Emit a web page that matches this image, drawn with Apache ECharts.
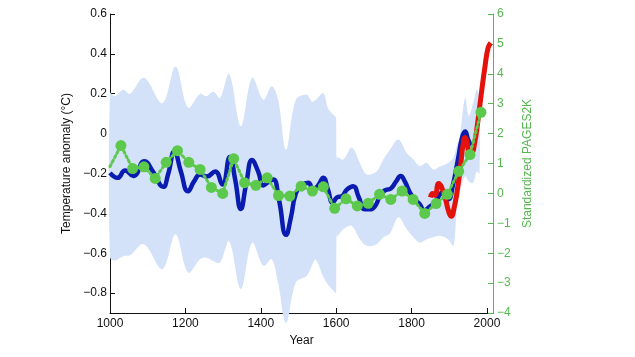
<!DOCTYPE html>
<html>
<head>
<meta charset="utf-8">
<script src="https://cdn.jsdelivr.net/npm/echarts@6/dist/echarts.min.js"></script>
<style>html,body{margin:0;padding:0;background:#fff}#c{width:635px;height:357px}</style>
</head>
<body>
<div id="c"></div>
<script>
// Reconstruction (blue), left axis
var blueYears = [1000,1020,1040,1062,1091,1114,1141,1154,1171,1188,1207,1223,1239,1257,1279,1298,1318,1332,1347,1361,1377,1393,1407,1419,1433,1448,1467,1480,1493,1509,1526,1539,1552,1566,1578,1591,1602,1615,1629,1645,1660,1676,1690,1703,1716,1729,1745,1759,1771,1782,1796,1809,1822,1833,1849,1862,1882,1897,1910,1923,1934,1942,1950,1958];
var blueTemp  = [-0.197,-0.222,-0.185,-0.213,-0.139,-0.19,-0.267,-0.205,-0.09,-0.19,-0.289,-0.24,-0.205,-0.215,-0.19,-0.255,-0.118,-0.23,-0.378,-0.255,-0.133,-0.19,-0.26,-0.245,-0.23,-0.33,-0.508,-0.42,-0.30,-0.26,-0.247,-0.28,-0.26,-0.222,-0.28,-0.347,-0.32,-0.314,-0.28,-0.264,-0.32,-0.38,-0.38,-0.364,-0.315,-0.285,-0.275,-0.24,-0.213,-0.24,-0.297,-0.33,-0.355,-0.385,-0.365,-0.345,-0.297,-0.33,-0.255,-0.13,-0.02,0.01,-0.03,-0.06];

// Instrumental (red), left axis
var redYears = [1850,1856,1862,1872,1880,1890,1900,1906,1912,1920,1930,1937,1942,1947,1953,1960,1967,1975,1985,1995,2003,2010];
var redTemp  = [-0.32,-0.30,-0.31,-0.25,-0.27,-0.33,-0.40,-0.415,-0.38,-0.30,-0.16,-0.05,-0.02,-0.04,-0.09,-0.09,-0.05,0.05,0.20,0.34,0.43,0.455];

// Uncertainty band, left axis (two segments: up to 1600, and after)
var bandYears = [1000,1013,1035,1053,1090,1139,1174,1207,1239,1255,1274,1292,1316,1347,1377,1407,1429,1446,1467,1493,1522,1536,1546,1566,1579,1597,1600,1601,1619,1641,1663,1681,1707,1725,1743,1765,1787,1805,1822,1840,1858,1875,1897,1911,1920,1928,1942,1952,1963,1973,1980];
var bandUpper = [0.203,0.187,0.22,0.2,0.28,0.153,0.337,0.13,0.2,0.187,0.21,0.18,0.3,0.037,0.28,0.17,0.237,0.17,-0.08,0.17,0.195,0.16,0.17,0.203,0.125,0.087,0.08,-0.12,-0.13,-0.07,-0.147,-0.205,-0.19,-0.13,-0.08,-0.03,-0.097,-0.13,-0.163,-0.147,-0.18,-0.165,-0.147,-0.12,-0.06,-0.013,0.18,0.09,0.15,0.22,0.18];
var bandLower = [-0.62,-0.637,-0.615,-0.61,-0.555,-0.68,-0.505,-0.697,-0.63,-0.622,-0.64,-0.647,-0.54,-0.78,-0.547,-0.663,-0.63,-0.75,-0.95,-0.747,-0.713,-0.66,-0.633,-0.72,-0.76,-0.797,-0.80,-0.513,-0.48,-0.463,-0.53,-0.563,-0.555,-0.52,-0.50,-0.42,-0.48,-0.52,-0.547,-0.53,-0.52,-0.513,-0.53,-0.563,-0.38,-0.30,-0.213,-0.24,-0.247,-0.19,-0.20];
var bandSplitYear = 1600;

// PAGES2K standardized (green), right axis
var greenYears = [1000,1029,1060,1090,1120,1149,1179,1209,1239,1269,1299,1328,1357,1387,1417,1447,1477,1507,1537,1566,1596,1626,1656,1685,1715,1745,1775,1804,1835,1865,1895,1925,1955,1984];
var greenVals  = [0.9,1.6,0.83,0.89,0.5,1.04,1.43,1.04,0.8,0.2,0.0,1.16,0.36,0.27,0.52,-0.07,-0.09,0.24,0.08,0.22,-0.5,-0.18,-0.42,-0.33,-0.03,-0.2,0.08,-0.2,-0.67,-0.34,-0.03,0.74,1.3,2.71];

var leftTicks = [-0.8,-0.6,-0.4,-0.2,0,0.2,0.4,0.6];
var xTicks = [1000,1200,1400,1600,1800,2000];

function zip(a,b){return a.map(function(v,i){return [v,b[i]];});}
function fmt(v){var s = (Math.round(v*10)/10).toString(); return s.replace('-', '\u2212');}

var GREEN_AX = '#55b84f';
var GREEN_DOT = '#5cc94c';
var font = 'Liberation Sans, Arial, sans-serif';

var chart = echarts.init(document.getElementById('c'), null, {renderer:'canvas'});
chart.setOption({
  animation:false,
  backgroundColor:'#fff',
  grid:{left:110,right:142,top:14,bottom:44,containLabel:false},
  xAxis:{
    type:'value', min:1000, max:2016, interval:200,
    name:'Year', nameLocation:'middle', nameGap:18,
    nameTextStyle:{color:'#111',fontSize:12,fontFamily:font},
    axisLine:{show:true,onZero:false,lineStyle:{color:'#111',width:1}},
    axisTick:{show:true,inside:true,length:5,lineStyle:{color:'#111'}},
    axisLabel:{color:'#111',fontSize:12,fontFamily:font,margin:5,showMaxLabel:false,
      formatter:function(v){return xTicks.indexOf(v)>=0?String(v):'';}},
    splitLine:{show:false}
  },
  yAxis:[{
    type:'value', min:-0.9, max:0.6, position:'left',
    name:'Temperature anomaly (\u00b0C)', nameLocation:'middle', nameGap:31, nameRotate:90,
    nameTextStyle:{color:'#111',fontSize:12,fontFamily:font},
    axisLine:{show:true,onZero:false,lineStyle:{color:'#111',width:1}},
    axisTick:{show:true,inside:true,length:5,customValues:leftTicks,lineStyle:{color:'#111'}},
    axisLabel:{color:'#111',fontSize:12,fontFamily:font,margin:3,customValues:leftTicks,formatter:fmt},
    splitLine:{show:false}
  },{
    type:'value', min:-4, max:6, interval:1, position:'right',
    name:'Standardized PAGES2K', nameLocation:'middle', nameGap:22, nameRotate:90,
    nameTextStyle:{color:GREEN_AX,fontSize:12,fontFamily:font},
    axisLine:{show:true,onZero:false,lineStyle:{color:GREEN_AX,width:1}},
    axisTick:{show:true,inside:true,length:5,lineStyle:{color:GREEN_AX}},
    axisLabel:{color:GREEN_AX,fontSize:12,fontFamily:font,margin:4,
      formatter:function(v){return String(v).replace('-', '\u2212');}},
    splitLine:{show:false}
  }],
  series:[{
    type:'custom', yAxisIndex:0, xAxisIndex:0, clip:false, silent:true, z:1,
    data:[[1000,0]],
    renderItem:function(params, api){
      function seg(filter){
        var idx = [];
        for (var i=0;i<bandYears.length;i++) if (filter(bandYears[i])) idx.push(i);
        var pts = [];
        idx.forEach(function(i){pts.push(api.coord([bandYears[i], bandUpper[i]]));});
        idx.slice().reverse().forEach(function(i){pts.push(api.coord([bandYears[i], bandLower[i]]));});
        return pts;
      }
      var a = seg(function(y){return y<=bandSplitYear;});
      var b = seg(function(y){return y>bandSplitYear;});
      return {type:'group', children:[
        {type:'polygon', shape:{points:a, smooth:0.35}, style:{fill:'#d3e2f8', stroke:null}},
        {type:'polygon', shape:{points:b, smooth:0.35}, style:{fill:'#d3e2f8', stroke:null}},
        {type:'rect', shape:{x:api.coord([1597,0])[0], y:api.coord([0,-0.12])[1], width:api.coord([1601,0])[0]-api.coord([1597,0])[0], height:api.coord([0,-0.513])[1]-api.coord([0,-0.12])[1]}, style:{fill:'#d3e2f8'}}
      ]};
    }
  },{
    type:'line', yAxisIndex:0, data:zip(blueYears, blueTemp), smooth:0.5, symbol:'none', z:3,
    lineStyle:{color:'#0a1cb0', width:4.5}
  },{
    type:'line', yAxisIndex:0, data:zip(redYears, redTemp), smooth:0.5, symbol:'none', z:4,
    lineStyle:{color:'#e3120b', width:5}
  },{
    type:'line', yAxisIndex:1, z:5,
    data:zip(greenYears, greenVals).map(function(p,i){return i===0?{value:p,symbolSize:0}:{value:p};}),
    symbol:'circle', symbolSize:11, showAllSymbol:true,
    itemStyle:{color:GREEN_DOT},
    lineStyle:{color:GREEN_DOT, width:3, type:[2,3], cap:'round'}
  }]
});
</script>
</body>
</html>
